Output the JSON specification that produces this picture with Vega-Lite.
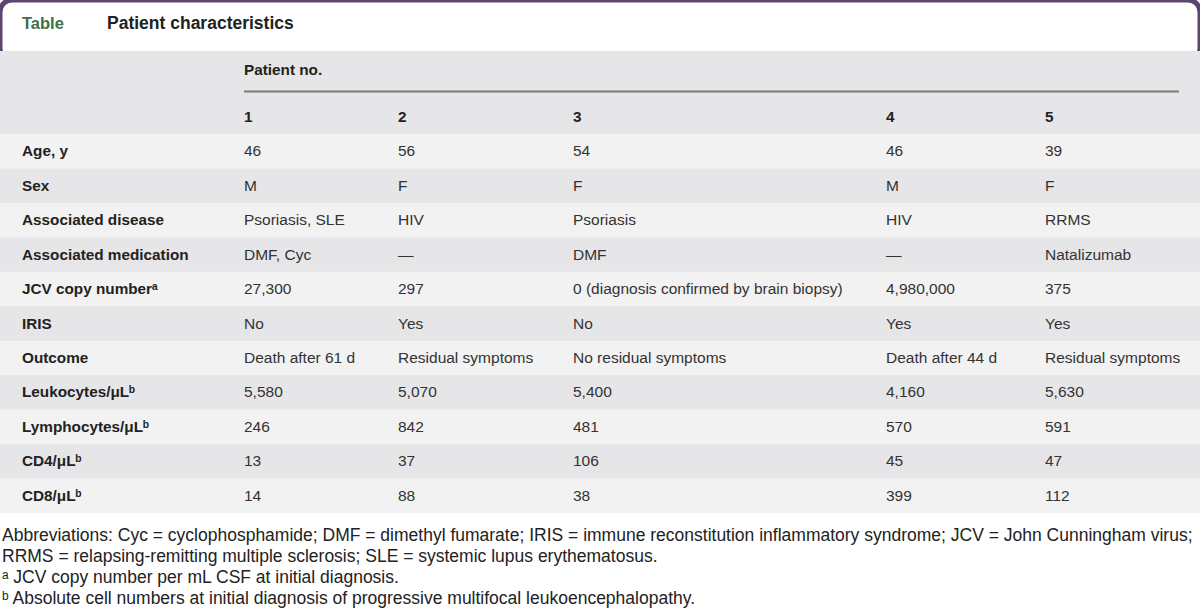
{
  "$schema": "https://vega.github.io/schema/vega-lite/v6.json",
  "width": 1200,
  "height": 616,
  "padding": 0,
  "autosize": {"type": "none"},
  "background": "#ffffff",
  "config": {"view": {"stroke": null}, "text": {"font": "Liberation Sans"}},
  "datasets": {
    "one": [{}],
    "labels": [
      {"row": 1, "label": "Age, y"},
      {"row": 2, "label": "Sex"},
      {"row": 3, "label": "Associated disease"},
      {"row": 4, "label": "Associated medication"},
      {"row": 5, "label": "JCV copy numberᵃ"},
      {"row": 6, "label": "IRIS"},
      {"row": 7, "label": "Outcome"},
      {"row": 8, "label": "Leukocytes/μLᵇ"},
      {"row": 9, "label": "Lymphocytes/μLᵇ"},
      {"row": 10, "label": "CD4/μLᵇ"},
      {"row": 11, "label": "CD8/μLᵇ"}
    ],
    "headers": [
      {"row": -3, "col": 1, "text": "Patient no."},
      {"row": -1, "col": 1, "text": "1"},
      {"row": -1, "col": 2, "text": "2"},
      {"row": -1, "col": 3, "text": "3"},
      {"row": -1, "col": 4, "text": "4"},
      {"row": -1, "col": 5, "text": "5"}
    ],
    "cells": [
      {"row": 1, "col": 1, "value": "46"}, {"row": 1, "col": 2, "value": "56"}, {"row": 1, "col": 3, "value": "54"}, {"row": 1, "col": 4, "value": "46"}, {"row": 1, "col": 5, "value": "39"},
      {"row": 2, "col": 1, "value": "M"}, {"row": 2, "col": 2, "value": "F"}, {"row": 2, "col": 3, "value": "F"}, {"row": 2, "col": 4, "value": "M"}, {"row": 2, "col": 5, "value": "F"},
      {"row": 3, "col": 1, "value": "Psoriasis, SLE"}, {"row": 3, "col": 2, "value": "HIV"}, {"row": 3, "col": 3, "value": "Psoriasis"}, {"row": 3, "col": 4, "value": "HIV"}, {"row": 3, "col": 5, "value": "RRMS"},
      {"row": 4, "col": 1, "value": "DMF, Cyc"}, {"row": 4, "col": 2, "value": "—"}, {"row": 4, "col": 3, "value": "DMF"}, {"row": 4, "col": 4, "value": "—"}, {"row": 4, "col": 5, "value": "Natalizumab"},
      {"row": 5, "col": 1, "value": "27,300"}, {"row": 5, "col": 2, "value": "297"}, {"row": 5, "col": 3, "value": "0 (diagnosis confirmed by brain biopsy)"}, {"row": 5, "col": 4, "value": "4,980,000"}, {"row": 5, "col": 5, "value": "375"},
      {"row": 6, "col": 1, "value": "No"}, {"row": 6, "col": 2, "value": "Yes"}, {"row": 6, "col": 3, "value": "No"}, {"row": 6, "col": 4, "value": "Yes"}, {"row": 6, "col": 5, "value": "Yes"},
      {"row": 7, "col": 1, "value": "Death after 61 d"}, {"row": 7, "col": 2, "value": "Residual symptoms"}, {"row": 7, "col": 3, "value": "No residual symptoms"}, {"row": 7, "col": 4, "value": "Death after 44 d"}, {"row": 7, "col": 5, "value": "Residual symptoms"},
      {"row": 8, "col": 1, "value": "5,580"}, {"row": 8, "col": 2, "value": "5,070"}, {"row": 8, "col": 3, "value": "5,400"}, {"row": 8, "col": 4, "value": "4,160"}, {"row": 8, "col": 5, "value": "5,630"},
      {"row": 9, "col": 1, "value": "246"}, {"row": 9, "col": 2, "value": "842"}, {"row": 9, "col": 3, "value": "481"}, {"row": 9, "col": 4, "value": "570"}, {"row": 9, "col": 5, "value": "591"},
      {"row": 10, "col": 1, "value": "13"}, {"row": 10, "col": 2, "value": "37"}, {"row": 10, "col": 3, "value": "106"}, {"row": 10, "col": 4, "value": "45"}, {"row": 10, "col": 5, "value": "47"},
      {"row": 11, "col": 1, "value": "14"}, {"row": 11, "col": 2, "value": "88"}, {"row": 11, "col": 3, "value": "38"}, {"row": 11, "col": 4, "value": "399"}, {"row": 11, "col": 5, "value": "112"}
    ],
    "notes": [
      {"row": 12, "text": "Abbreviations: Cyc = cyclophosphamide; DMF = dimethyl fumarate; IRIS = immune reconstitution inflammatory syndrome; JCV = John Cunningham virus;"},
      {"row": 13, "text": "RRMS = relapsing-remitting multiple sclerosis; SLE = systemic lupus erythematosus."},
      {"row": 14, "text": "ᵃ JCV copy number per mL CSF at initial diagnosis."},
      {"row": 15, "text": "ᵇ Absolute cell numbers at initial diagnosis of progressive multifocal leukoencephalopathy."}
    ]
  },
  "layer": [
    {
      "data": {"name": "one"},
      "mark": {"type": "rect", "fill": "#ffffff", "stroke": "#5b4470", "strokeWidth": 5, "cornerRadius": 12},
      "encoding": {
        "x": {"datum": -1, "type": "quantitative", "axis": null, "scale": {"type": "linear", "domain": [-1, 0, 1, 2, 3, 4, 5, 6, 7], "range": [0, 22, 244, 398, 573, 886, 1045, 1179, 1200], "zero": false, "nice": false}},
        "x2": {"datum": 7},
        "y": {"datum": -6, "type": "quantitative", "axis": null, "scale": {"type": "linear", "domain": [-6, -5, -4, -3, -2, -1, 0.5, 11.5, 12, 15, 16], "range": [0, 24, 51, 70, 91.5, 117, 134, 513, 536, 599, 616], "zero": false, "nice": false}},
        "y2": {"datum": -3.5}
      }
    },
    {
      "data": {"name": "one"},
      "mark": {"type": "rect", "fill": "#e6e6e8"},
      "encoding": {
        "x": {"datum": -1, "type": "quantitative"},
        "x2": {"datum": 7},
        "y": {"datum": -4, "type": "quantitative"},
        "y2": {"datum": 11.5}
      }
    },
    {
      "data": {"name": "labels"},
      "transform": [{"filter": "datum.row % 2 == 1"}],
      "mark": {"type": "rule", "color": "#f2f2f2", "strokeWidth": 34.5, "strokeCap": "butt"},
      "encoding": {
        "x": {"datum": -1, "type": "quantitative"},
        "x2": {"datum": 7},
        "y": {"field": "row", "type": "quantitative"}
      }
    },
    {
      "data": {"name": "one"},
      "mark": {"type": "rule", "color": "#7a7a7a", "strokeWidth": 2},
      "encoding": {
        "x": {"datum": 1, "type": "quantitative"},
        "x2": {"datum": 6},
        "y": {"datum": -2, "type": "quantitative"}
      }
    },
    {
      "data": {"name": "one"},
      "mark": {"type": "text", "text": "Table", "align": "left", "baseline": "middle", "fontSize": 16.5, "fontWeight": "bold", "color": "#3f6f4a"},
      "encoding": {
        "x": {"datum": 0, "type": "quantitative"},
        "y": {"datum": -5, "type": "quantitative"}
      }
    },
    {
      "data": {"name": "one"},
      "mark": {"type": "text", "text": "Patient characteristics", "align": "left", "baseline": "middle", "dx": 85, "fontSize": 17.5, "fontWeight": "bold", "color": "#222222"},
      "encoding": {
        "x": {"datum": 0, "type": "quantitative"},
        "y": {"datum": -5, "type": "quantitative"}
      }
    },
    {
      "data": {"name": "headers"},
      "mark": {"type": "text", "align": "left", "baseline": "middle", "fontSize": 15.3, "fontWeight": "bold", "color": "#222222"},
      "encoding": {
        "x": {"field": "col", "type": "quantitative"},
        "y": {"field": "row", "type": "quantitative"},
        "text": {"field": "text"}
      }
    },
    {
      "data": {"name": "labels"},
      "mark": {"type": "text", "align": "left", "baseline": "middle", "fontSize": 15.3, "fontWeight": "bold", "color": "#222222"},
      "encoding": {
        "x": {"datum": 0, "type": "quantitative"},
        "y": {"field": "row", "type": "quantitative"},
        "text": {"field": "label"}
      }
    },
    {
      "data": {"name": "cells"},
      "mark": {"type": "text", "align": "left", "baseline": "middle", "fontSize": 15.5, "color": "#333333"},
      "encoding": {
        "x": {"field": "col", "type": "quantitative"},
        "y": {"field": "row", "type": "quantitative"},
        "text": {"field": "value"}
      }
    },
    {
      "data": {"name": "notes"},
      "mark": {"type": "text", "align": "left", "baseline": "middle", "fontSize": 17.5, "dx": 2, "color": "#222222"},
      "encoding": {
        "x": {"datum": -1, "type": "quantitative"},
        "y": {"field": "row", "type": "quantitative"},
        "text": {"field": "text"}
      }
    }
  ]
}
